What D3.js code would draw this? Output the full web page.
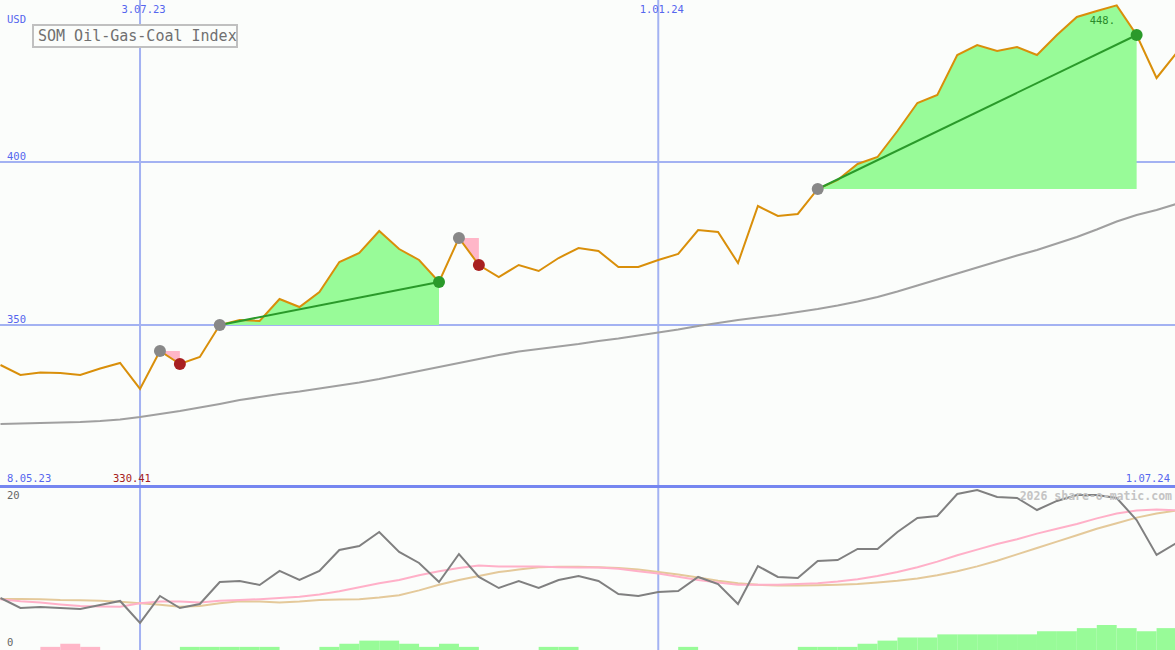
<!DOCTYPE html>
<html><head><meta charset="utf-8">
<script src="https://cdn.jsdelivr.net/npm/d3@7"></script>
<style>html,body{margin:0;padding:0;background:#fbfdfb;overflow:hidden}</style>
</head><body><svg id="c" width="1175" height="650"></svg>
<script>
// ---------- data ----------
const startWeek = "2023-05-15";
const endWeek = "2024-07-01";
const price = [337.73,334.66,335.43,335.28,334.66,336.66,338.34,330.41,342.02,338.04,
  340.18,350.00,351.53,351.23,357.98,355.52,360.12,369.33,372.09,378.83,
  373.31,369.94,363.19,376.69,368.40,364.72,368.40,366.56,370.55,373.62,
  372.70,367.79,367.79,369.94,371.78,379.14,378.53,369.02,386.50,383.44,
  384.05,391.72,394.48,399.39,401.53,409.51,418.10,420.55,432.82,435.89,
  434.05,435.28,432.82,438.96,444.48,446.32,448.05,438.96,425.77,433.44];
const longAverage = [319.63,319.79,319.94,320.09,320.25,320.55,321.01,321.78,322.70,323.62,
  324.69,325.77,326.99,327.91,328.83,329.60,330.52,331.44,332.36,333.44,
  334.66,335.89,337.12,338.34,339.57,340.80,341.87,342.64,343.40,344.17,
  345.09,345.86,346.78,347.70,348.62,349.69,350.61,351.53,352.30,353.07,
  353.99,354.91,355.98,357.21,358.59,360.28,362.12,363.96,365.80,367.64,
  369.48,371.32,373.01,375.00,376.99,379.29,381.75,383.74,385.28,387.12];
const oscillator = [6.25,5.0,5.13,5.0,4.88,5.38,5.88,3.13,6.5,5.0,
  5.5,8.25,8.38,7.88,9.63,8.5,9.63,12.25,12.75,14.5,
  12.0,10.63,8.25,11.75,8.88,7.5,8.38,7.5,8.5,9.0,
  8.38,6.75,6.5,7.0,7.13,8.88,8.0,5.5,10.25,8.88,
  8.75,10.88,11.0,12.38,12.38,14.5,16.25,16.5,19.25,19.75,
  18.88,18.75,17.25,18.38,19.13,19.13,18.75,16.0,11.63,13.13];
const oscFast = [6.1,5.85,5.7,5.45,5.25,5.2,5.17,5.6,5.8,5.8,
  5.7,5.9,6.0,6.1,6.25,6.4,6.7,7.1,7.6,8.1,
  8.5,9.1,9.6,10.0,10.3,10.2,10.2,10.2,10.1,10.05,
  10.05,9.9,9.6,9.3,8.9,8.5,8.2,7.9,7.9,7.9,
  8.0,8.1,8.3,8.6,9.0,9.5,10.1,10.8,11.6,12.3,
  13.0,13.6,14.3,14.9,15.5,16.2,16.8,17.2,17.3,17.2];
const oscSlow = [6.13,6.12,6.1,6.0,5.97,5.9,5.78,5.6,5.4,5.17,
  5.25,5.6,5.85,5.8,5.7,5.8,6.0,6.05,6.1,6.3,
  6.6,7.2,7.9,8.5,9.0,9.5,9.8,10.1,10.15,10.15,
  10.1,10.0,9.8,9.5,9.2,8.8,8.4,8.1,7.9,7.8,
  7.8,7.85,7.9,8.0,8.2,8.4,8.7,9.1,9.6,10.2,
  10.9,11.7,12.5,13.3,14.1,14.9,15.6,16.3,16.8,17.2];
const histogram = [0,0,-1,-2,-1,0,0,0,0,1,
  1,1,1,1,0,0,1,2,3,3,
  2,1,2,1,0,0,0,1,1,0,
  0,0,0,0,1,0,0,0,0,0,
  1,1,1,2,3,4,4,5,5,5,
  5,5,6,6,7,8,7,6,7,7];
const trades = [
  {entry: 8, exit: 9},
  {entry: 11, exit: 22},
  {entry: 23, exit: 24},
  {entry: 41, exit: 57}
];
const priceTicks = [350, 400];
const oscTicks = [0, 20];
const gridDates = ["2023-07-03", "2024-01-01"];
const gridDateLabels = ["3.07.23", "1.01.24"];
const rangeLabels = ["8.05.23", "1.07.24"];
const minLabel = "330.41";
const maxLabel = "448.";
const title = "SOM Oil-Gas-Coal Index";
const unitLabel = "USD";
const watermark = "2026 share-o-matic.com";

// ---------- layout ----------
const W = 1175, H = 650;
const svg = d3.select("#c");
const parse = d3.utcParse("%Y-%m-%d");
const dates = d3.utcMonday.range(parse(startWeek), d3.utcDay.offset(parse(endWeek), 1));
const x = d3.scaleUtc().domain([parse(startWeek), parse(endWeek)]).range([0.5, 1176.5]);
const y = d3.scaleLinear().domain([350, 400]).range([325, 162]);
const yo = d3.scaleLinear().domain([0, 20]).range([648, 488]);
const yh = d3.scaleLinear().domain([0, 8]).range([650, 625]);

const blue = "#5566ee", gridCol = "#a3b2f2", sepCol = "#7586f0";
const mono = "'DejaVu Sans Mono', monospace";

svg.append("rect").attr("width", W).attr("height", H).attr("fill", "#fbfdfb");

// grid lines
const g = svg.append("g");
g.selectAll(".hg").data(priceTicks).join("line")
  .attr("x1", 0).attr("x2", W).attr("y1", d => y(d)).attr("y2", d => y(d))
  .attr("stroke", gridCol).attr("stroke-width", 2);
g.selectAll(".vg").data(gridDates).join("line")
  .attr("x1", d => x(parse(d)) ).attr("x2", d => x(parse(d)))
  .attr("y1", 0).attr("y2", H)
  .attr("stroke", gridCol).attr("stroke-width", 2);

// histogram
svg.append("g").selectAll("rect").data(histogram.map((v, i) => ({v, i}))).join("rect")
  .filter(d => d.v !== 0)
  .attr("x", d => x(dates[d.i]))
  .attr("width", d => x(d3.utcWeek.offset(dates[d.i], 1)) - x(dates[d.i]))
  .attr("y", d => yh(Math.abs(d.v)))
  .attr("height", d => yh(0) - yh(Math.abs(d.v)))
  .attr("fill", d => d.v > 0 ? "#98fb98" : "#ffb6c8");

// trade fills
trades.forEach(t => {
  const pts = [];
  for (let i = t.entry; i <= t.exit; i++) pts.push([x(dates[i]), y(price[i])]);
  pts.push([x(dates[t.exit]), y(price[t.entry])]);
  const win = price[t.exit] > price[t.entry];
  svg.append("path").attr("d", d3.line()(pts) + "Z")
    .attr("fill", win ? "#98fb98" : "#ffb6c8");
});

// long average
svg.append("path").datum(longAverage)
  .attr("d", d3.line().x((d, i) => x(dates[i])).y(d => y(d)))
  .attr("fill", "none").attr("stroke", "#a0a0a0").attr("stroke-width", 2.2);

// price line
svg.append("path").datum(price)
  .attr("d", d3.line().x((d, i) => x(dates[i])).y(d => y(d)))
  .attr("fill", "none").attr("stroke", "#d98f0a").attr("stroke-width", 2);

// trade lines & dots
trades.forEach(t => {
  const win = price[t.exit] > price[t.entry];
  if (win) svg.append("line")
    .attr("x1", x(dates[t.entry])).attr("y1", y(price[t.entry]))
    .attr("x2", x(dates[t.exit])).attr("y2", y(price[t.exit]))
    .attr("stroke", "#2a9a2a").attr("stroke-width", 2);
  svg.append("circle").attr("cx", x(dates[t.entry])).attr("cy", y(price[t.entry]))
    .attr("r", 6).attr("fill", "#888888");
  svg.append("circle").attr("cx", x(dates[t.exit])).attr("cy", y(price[t.exit]))
    .attr("r", 6).attr("fill", win ? "#2a9a2a" : "#a82020");
});

// oscillator panel
const ol = d3.line().x((d, i) => x(dates[i])).y(d => yo(d));
svg.append("path").datum(oscSlow).attr("d", ol)
  .attr("fill", "none").attr("stroke", "#e4c99a").attr("stroke-width", 2);
svg.append("path").datum(oscFast).attr("d", ol)
  .attr("fill", "none").attr("stroke", "#ffb0c8").attr("stroke-width", 2);
svg.append("path").datum(oscillator).attr("d", ol)
  .attr("fill", "none").attr("stroke", "#808080").attr("stroke-width", 2);

// separator
svg.append("line").attr("x1", 0).attr("x2", W).attr("y1", 486.5).attr("y2", 486.5)
  .attr("stroke", sepCol).attr("stroke-width", 3);

// axis labels (via d3 axis, no lines)
const axP = svg.append("g").attr("transform", "translate(7,0)")
  .call(d3.axisRight(y).tickValues(priceTicks).tickSize(0).tickFormat(d3.format("d")));
axP.select(".domain").remove();
axP.selectAll("text").attr("x", 0).attr("dy", "-3").attr("fill", blue)
  .attr("font-family", mono).attr("font-size", 10.5).attr("text-anchor", "start");

const axO = svg.append("g").attr("transform", "translate(7,0)")
  .call(d3.axisRight(yo).tickValues(oscTicks).tickSize(0).tickFormat(d3.format("d")));
axO.select(".domain").remove();
axO.selectAll("text").attr("x", 0).attr("fill", "#666")
  .attr("font-family", mono).attr("font-size", 10.5).attr("text-anchor", "start")
  .attr("dy", d => d === 20 ? "10" : "-3");

const axX = svg.append("g")
  .call(d3.axisBottom(x).tickValues(gridDates.map(parse)).tickSize(0)
    .tickFormat((d, i) => gridDateLabels[i]));
axX.select(".domain").remove();
axX.selectAll("text").attr("y", 13).attr("dy", 0).attr("fill", blue)
  .attr("font-family", mono).attr("font-size", 10.5).attr("dx", 3);

const txt = (s, xx, yy, col, anchor = "start", size = 10.5) =>
  svg.append("text").text(s).attr("x", xx).attr("y", yy).attr("fill", col)
    .attr("font-family", mono).attr("font-size", size).attr("text-anchor", anchor);

txt(unitLabel, 7, 23, blue);
txt(rangeLabels[0], 7, 482, blue);
txt(rangeLabels[1], 1170, 482, blue, "end");
const minI = price.indexOf(d3.min(price));
txt(minLabel, x(dates[minI]) - 27, 482, "#a52020");
const maxI = price.indexOf(d3.max(price));
txt(maxLabel, x(dates[maxI]) - 27, 24, "#2a8a2a");
txt(watermark, 1172, 500, "#c4c4c4", "end", 11.5).attr("font-weight", "bold");

// title box
svg.append("rect").attr("x", 33).attr("y", 25).attr("width", 204).attr("height", 22)
  .attr("fill", "#fbfdfb").attr("stroke", "#c0c0c0").attr("stroke-width", 2);
txt(title, 38, 41, "#707070", "start", 15);
</script></body></html>
